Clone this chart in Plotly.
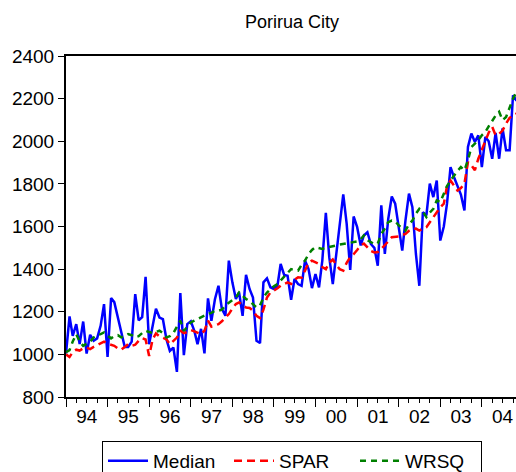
import pandas as pd
import plotly.graph_objects as go

dates = pd.date_range("1994-01-01", periods=131, freq="MS")

median = [1004, 1178, 1087, 1142, 1048, 1154, 1004, 1092, 1064, 1075, 1134, 1236,
          988, 1264, 1245, 1173, 1110, 1035, 1035, 1060, 1283, 1160, 1175, 1364,
          1048, 1142, 1214, 1173, 1165, 1071, 1016, 1032, 918, 1288, 996, 1142,
          1155, 1110, 1048, 1120, 1005, 1263, 1157, 1259, 1322, 1213, 1181, 1440,
          1338, 1260, 1291, 1181, 1373, 1307, 1267, 1064, 1053, 1338, 1357, 1315,
          1307, 1322, 1424, 1373, 1369, 1256, 1354, 1330, 1322, 1440, 1400, 1311,
          1377, 1314, 1440, 1664, 1456, 1330, 1471, 1628, 1751, 1612, 1396, 1647,
          1597, 1511, 1558, 1573, 1518, 1500, 1416, 1699, 1471, 1636, 1741, 1707,
          1597, 1487, 1628, 1754, 1691, 1471, 1322, 1667, 1652, 1801, 1738, 1816,
          1534, 1600, 1707, 1879, 1832, 1793, 1750, 1675, 1973, 2036, 1997, 2028,
          1879, 2020, 2000, 1918, 2039, 1918, 2060, 1958, 1958, 2216, 2190]

spar = [1000, 988, 1010, 1022, 1018, 1028, 1032, 1025, 1035, 1042, 1050, 1060,
        1050, 1045, 1040, 1028, 1022, 1035, 1048, 1040, 1045, 1064, 1076, 1070,
        993, 1070, 1098, 1085, 1078, 1071, 1048, 1062, 1079, 1111, 1100, 1105,
        1114, 1108, 1100, 1095, 1111, 1158, 1130, 1135, 1142, 1155, 1170, 1189,
        1215, 1236, 1244, 1232, 1220, 1218, 1205, 1181, 1170, 1210, 1267, 1290,
        1299, 1310, 1322, 1330, 1338, 1330, 1350, 1362, 1360, 1393, 1430, 1440,
        1430, 1424, 1410, 1400, 1430, 1445, 1420, 1400, 1393, 1430, 1456, 1470,
        1490, 1511, 1520, 1500, 1485, 1478, 1480, 1495, 1511, 1530, 1550, 1552,
        1553, 1560, 1565, 1580, 1589, 1590, 1581, 1590, 1597, 1620, 1644, 1670,
        1690, 1707, 1790, 1816, 1793, 1769, 1780, 1801, 1902, 1887, 1864, 1918,
        1960, 2000, 2040, 2068, 2028, 2035, 2050, 2083, 2110, 2122, 2130]

wrsq = [1010, 1020, 1060, 1095, 1060, 1040, 1050, 1060, 1079, 1090, 1095, 1103,
        1090, 1075, 1085, 1090, 1080, 1085, 1095, 1090, 1080, 1085, 1100, 1111,
        1105, 1100, 1105, 1111, 1100, 1080, 1085, 1100, 1130, 1158, 1110, 1130,
        1150, 1158, 1166, 1175, 1181, 1190, 1195, 1205, 1205, 1210, 1230, 1244,
        1255, 1267, 1291, 1275, 1260, 1250, 1235, 1220, 1230, 1267, 1290, 1307,
        1320, 1330, 1346, 1365, 1385, 1400, 1395, 1393, 1420, 1440, 1470, 1490,
        1503, 1500, 1495, 1500, 1503, 1505, 1511, 1515, 1518, 1520, 1522, 1526,
        1530, 1540, 1558, 1535, 1526, 1518, 1520, 1565, 1590, 1620, 1628, 1625,
        1605, 1590, 1581, 1610, 1628, 1660, 1683, 1670, 1644, 1665, 1683, 1722,
        1715, 1754, 1790, 1816, 1840, 1860, 1879, 1864, 1911, 1973, 1989, 2005,
        2028, 2044, 2070, 2099, 2120, 2138, 2099, 2114, 2161, 2200, 2232]

y_ticks = [800, 1000, 1200, 1400, 1600, 1800, 2000, 2200, 2400]

FONT = "Liberation Sans, Arial, sans-serif"

W, H = 516, 472

fig = go.Figure()
fig.add_trace(go.Scatter(x=dates, y=median, name="Median", mode="lines",
                         line=dict(color="#0000FF", width=2.5)))
fig.add_trace(go.Scatter(x=dates, y=spar, name="SPAR", mode="lines",
                         line=dict(color="#FF0000", width=2.5, dash="8px,5px")))
fig.add_trace(go.Scatter(x=dates, y=wrsq, name="WRSQ", mode="lines",
                         line=dict(color="#008000", width=2.5, dash="6px,5px")))

fig.update_layout(
    width=W, height=H,
    margin=dict(l=66, r=0, t=56, b=75, autoexpand=False),
    paper_bgcolor="white", plot_bgcolor="white",
    font=dict(family=FONT, size=19, color="black"),
    title=dict(text="Porirua City", x=292 / W, xanchor="center", y=1 - 22 / H,
               yanchor="middle", xref="container", yref="container",
               font=dict(family=FONT, size=18, color="black")),
    showlegend=True,
    legend=dict(orientation="h", x=292 / W, xanchor="center", xref="container",
                y=1 - 441 / H, yanchor="top", yref="container",
                bordercolor="black", borderwidth=1, font=dict(size=19),
                entrywidth=71, itemwidth=40, tracegroupgap=0),
    xaxis=dict(
        type="date",
        range=["1994-01-01", "2004-10-27"],
        tickmode="linear", tick0="1994-01-01", dtick="M12",
        tickformat="%y", ticklabelmode="period",
        ticks="outside", ticklen=8, tickwidth=1, tickcolor="black",
        minor=dict(dtick="M3", ticks="outside", ticklen=4, tickcolor="black"),
        showline=True, linecolor="black", linewidth=2, mirror=True,
        showgrid=False, zeroline=False, automargin=False,
        ticklabelstandoff=-7,
        tickfont=dict(size=19),
    ),
    yaxis=dict(
        range=[800, 2400], tickvals=y_ticks,
        ticks="outside", ticklen=6, tickwidth=1, tickcolor="black",
        showline=True, linecolor="black", linewidth=2,
        showgrid=False, zeroline=False, automargin=False,
        tickfont=dict(size=19),
    ),
)

fig.write_html(
    "out.html",
    config={"displayModeBar": False},
    post_script="document.body.style.margin='0';document.body.style.overflow='hidden';",
)
